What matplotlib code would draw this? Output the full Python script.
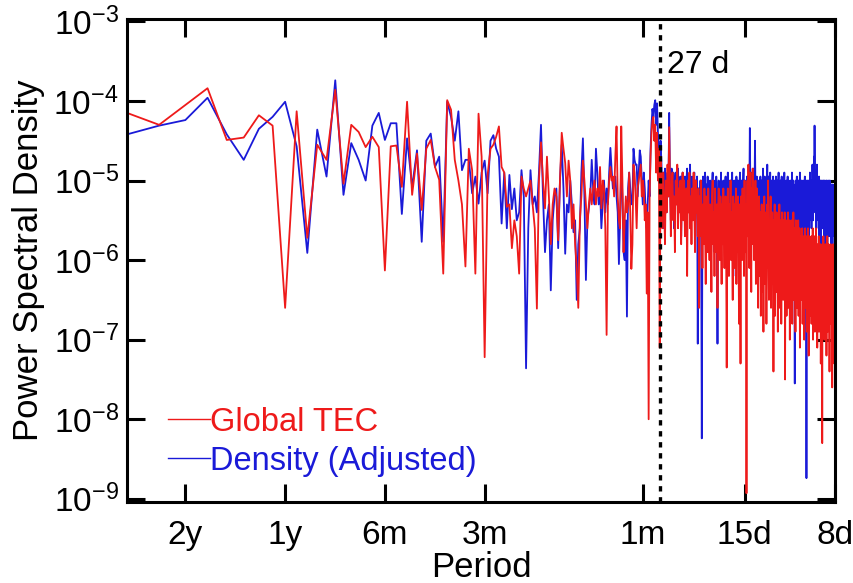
import numpy as np
import matplotlib.pyplot as plt
from matplotlib.lines import Line2D
from matplotlib.ticker import FixedLocator, LogLocator, NullLocator

plt.rcParams['font.family'] = ['Liberation Sans', 'DejaVu Sans']
plt.rcParams['axes.unicode_minus'] = False

# spectrum of a 12-year daily series, first plotted harmonic k = 4
record_days = 4380
first_k = 4

# log10 of the PSD, one value per harmonic (k = 4 ... 547)
tec_low = [
    -4.15, -4.30, -4.05, -3.84, -4.49, -4.46, -4.18, -4.31, -6.60, -4.13,
    -5.72, -4.55, -4.74, -3.86, -5.04, -4.30, -4.39, -4.58, -4.45, -4.58,
    -6.13, -4.57, -4.56, -5.08, -4.01, -5.18, -4.66, -5.37, -4.60, -4.49,
    -4.83, -4.99, -6.17, -3.99, -4.11, -4.74, -5.00, -5.30, -6.08, -4.60,
    -4.87, -6.17, -4.16, -4.70, -7.22,
    -4.93, -4.60, -4.55, -4.45, -4.32, -4.83, -4.90, -5.33, -5.30, -5.85,
    -5.50, -5.70, -6.17, -4.95, -5.10, -5.20, -5.10, -5.00, -5.30, -5.60,
    -6.61, -5.00, -4.52, -5.00, -5.35, -4.70, -5.20, -5.80, -5.30, -5.10,
    -5.20, -5.75, -5.00, -4.40, -4.60, -4.78, -5.20, -4.75, -5.00, -5.60,
    -5.30, -5.80, -6.10, -6.60, -5.50, -5.20, -4.75, -5.00, -5.30, -5.60,
    -5.30, -5.10,
]
tec_mid = [
    -5.30, -5.10, -5.00, -5.30, -5.10, -5.20, -4.83, -5.35, -5.00, -5.10,
    -5.60, -6.94, -5.30, -5.00, -4.83, -5.00, -4.95, -5.20, -4.70, -4.32,
    -5.20, -5.50, -5.60, -4.32, -5.00, -5.90, -5.50, -5.20, -5.40, -5.30,
    -4.90, -5.40, -6.11, -5.80, -4.80, -4.90, -5.20, -5.60, -5.10, -5.00,
    -4.90, -4.80, -5.20, -5.00, -5.10, -5.50, -5.30, -6.42, -5.40, -8.00,
    -5.20, -4.70, -4.40, -4.25, -4.20, -4.50, -4.30, -4.90, -4.40, -5.00,
    -4.60, -7.10, -4.70,
    -5.1, -5.6, -4.9, -5.3, -5.8, -5.0, -5.4, -4.8, -5.2, -4.33,
    -5.0, -5.7, -5.1, -4.9, -5.5, -5.2, -5.9, -5.0, -5.3, -4.8,
    -5.6, -5.1, -5.4, -5.0, -5.8, -5.2, -4.9, -5.5, -5.0, -5.7,
    -5.3, -5.1, -6.2, -5.0, -5.4, -4.9, -5.6, -5.2, -5.8, -5.1,
    -5.5, -4.9, -5.3, -5.9, -5.0, -5.4, -5.2, -5.7, -5.1, -6.6,
]
tec_high = [
    -5.2, -5.7, -5.0, -5.5, -6.1, -5.3, -5.8, -5.1, -5.6, -6.3,
    -5.2, -5.4, -5.9, -5.1, -5.7, -6.0, -5.3, -5.5, -6.4, -5.2,
    -5.0, -5.8, -5.4, -6.2, -5.1, -5.6, -5.9, -5.3, -6.6, -5.4,
    -5.1, -5.7, -6.0, -5.2, -5.5, -6.3, -5.3, -5.8, -5.1, -5.6,
    -6.1, -5.4, -5.2, -5.9, -7.35, -5.5, -5.1, -5.7, -6.2, -5.3,
    -5.6, -5.0, -6.0, -5.4, -5.8, -6.5, -5.2, -5.5, -6.1, -5.3,
    -5.7, -5.1, -6.3, -5.4, -5.9, -5.2, -5.6, -6.8, -5.3, -5.7,
    -7.3, -5.2, -5.5, -6.0, -5.1, -5.8, -5.4, -6.2, -5.0, -5.6,
    -5.9, -5.3, -8.93, -5.5, -5.0, -5.7, -4.8, -5.4, -6.1, -5.2,
    -4.9, -5.6, -6.4, -5.1, -5.5, -4.85, -5.8, -5.3, -6.0, -5.2,
    -5.7, -5.0, -6.3, -5.4, -5.1, -5.9, -5.3, -6.6, -5.5, -5.2,
    -5.6, -6.2, -5.4, -6.7, -5.8, -5.3, -6.4, -5.9, -5.5, -6.9,
    -5.7, -5.2, -6.3, -5.6, -6.0, -5.4, -6.8, -5.8, -5.3, -6.1,
    -5.0, -5.9, -6.5, -5.5, -6.2, -5.7, -5.2, -6.6, -5.8, -6.0,
    -5.4, -6.3, -5.6, -7.4, -5.5, -6.1, -5.3, -6.7, -5.9, -5.6,
    -6.4, -5.4, -6.0, -5.7, -6.9, -5.5, -5.9, -6.3, -5.3, -6.6,
    -5.8, -6.1, -5.5, -6.8, -5.6, -5.4, -6.2, -5.9, -6.5, -5.5,
    -5.7, -6.0, -5.4, -7.5, -5.8, -6.3, -5.6, -6.7, -5.5, -6.1,
    -5.9, -5.4, -6.6, -5.7, -6.2, -5.5, -7.0, -5.8, -6.0, -5.6,
    -6.4, -5.5, -5.9, -6.8, -5.7, -6.1, -5.4, -6.5, -5.9, -5.6,
    -6.3, -5.8, -6.9, -5.5, -6.0, -5.7, -6.6, -5.6, -6.2, -5.9,
    -5.5, -6.7, -5.8, -6.1, -5.6, -7.1, -5.9, -6.3, -5.7, -6.5,
    -5.8, -6.0, -5.6, -6.8, -6.2, -5.7, -6.4, -5.9, -7.0, -5.8,
    -6.1, -5.6, -6.6, -5.9, -6.3, -5.7, -6.9, -6.0, -5.8, -6.5,
    -5.6, -6.2, -7.2, -5.9, -6.0, -5.7, -6.7, -6.1, -5.8, -6.4,
    -5.9, -6.8, -5.7, -6.3, -6.0, -5.6, -7.0, -6.2, -5.9, -6.5,
    -5.7, -6.1, -6.9, -5.8, -6.4, -6.0, -5.6, -6.7, -6.2, -5.9,
    -7.1, -6.0, -5.8, -6.5, -6.3, -5.7, -6.9, -6.1, -5.9, -6.6,
    -6.0, -5.8, -7.3, -6.2, -5.9, -6.5, -6.0, -8.3, -5.8, -6.4,
    -6.1, -5.7, -6.8, -6.2, -5.9, -7.0, -6.0, -6.3, -5.8, -6.6,
    -6.2, -5.9, -7.2, -6.0, -6.4, -5.7, -6.9, -6.1, -6.3, -5.8,
    -6.7, -6.0, -6.2, -7.4, -5.9, -6.5, -6.1, -5.8, -6.8, -6.3,
    -6.0, -6.6, -5.9, -7.6, -6.2, -6.4, -5.8, -7.0, -6.1, -6.5,
    -5.9, -7.3, -6.2, -6.0,
]

dens_low = [
    -4.42, -4.31, -4.24, -3.96, -4.42, -4.74, -4.35, -4.20, -4.01, -4.57,
    -5.91, -4.36, -4.95, -3.74, -5.18, -4.53, -4.74, -5.00, -4.31, -4.15,
    -4.49, -4.28, -4.28, -5.42, -4.47, -5.08, -4.62, -5.77, -4.50, -4.41,
    -4.83, -4.70, -5.77, -4.01, -4.20, -4.50, -4.13, -4.87, -4.74, -4.74,
    -5.16, -4.95, -5.29, -4.90, -4.75,
    -5.16, -4.50, -4.43, -4.60, -4.70, -5.54, -4.90, -5.60, -4.93, -5.36,
    -5.10, -5.50, -5.40, -4.87, -5.20, -7.36, -5.60, -4.87, -5.30, -5.20,
    -5.40, -4.90, -4.30, -5.20, -5.90, -5.50, -5.30, -6.38, -5.50, -5.20,
    -5.10, -5.85, -5.00, -4.55, -5.10, -5.92, -5.30, -5.40, -5.00, -5.30,
    -5.65, -5.50, -6.50, -5.80, -5.60, -4.90, -4.47, -5.20, -6.25, -5.50,
    -5.35, -5.20,
]
dens_mid = [
    -4.74, -5.10, -5.30, -4.60, -4.90, -5.30, -5.10, -5.60, -5.30, -5.00,
    -5.40, -5.10, -5.30, -4.90, -4.59, -4.87, -5.10, -5.00, -4.95, -5.20,
    -5.40, -6.05, -5.50, -4.80, -5.20, -5.90, -6.00, -5.50, -6.71, -5.10,
    -4.90, -5.10, -5.30, -5.25, -4.60, -4.74, -4.80, -4.80, -5.20, -4.90,
    -4.62, -4.70, -5.00, -5.30, -4.90, -5.10, -5.40, -5.60, -5.30, -5.00,
    -5.20, -4.60, -4.30, -4.10, -4.20, -4.05, -3.99, -4.30, -4.03, -4.40,
    -4.60, -4.90, -4.50,
    -4.8, -5.3, -4.9, -5.6, -4.85, -5.1, -5.4, -4.9, -5.2, -4.15,
    -5.0, -5.5, -4.85, -5.2, -4.9, -5.6, -5.0, -4.9, -5.3, -5.0,
    -4.85, -5.4, -5.1, -4.95, -5.7, -5.0, -4.9, -5.3, -5.1, -4.95,
    -5.6, -5.0, -4.85, -5.4, -4.95, -5.2, -4.8, -5.5, -5.0, -4.95,
    -5.3, -5.1, -4.9, -5.6, -5.0, -5.2, -4.95, -7.05, -5.1, -5.4,
]
dens_high = [
    -5.3, -5.0, -5.6, -8.24, -5.2, -4.95, -5.5, -5.1, -4.9, -5.4,
    -5.05, -5.7, -4.95, -5.3, -5.1, -5.8, -5.0, -5.2, -5.5, -5.05,
    -4.9, -5.4, -5.1, -5.9, -5.0, -5.3, -4.95, -5.6, -7.05, -5.2,
    -5.0, -5.5, -5.05, -5.3, -4.9, -5.7, -5.1, -5.4, -5.0, -5.2,
    -5.6, -5.05, -4.95, -5.4, -5.8, -5.1, -4.9, -5.3, -5.05, -5.6,
    -5.0, -5.2, -5.5, -5.05, -4.9, -5.4, -6.2, -5.1, -5.0, -5.3,
    -5.05, -5.7, -4.95, -5.2, -5.5, -5.0, -5.1, -5.8, -5.05, -4.9,
    -5.3, -5.6, -5.0, -5.1, -5.4, -5.05, -4.85, -5.5, -5.1, -5.0,
    -5.3, -5.05, -5.7, -4.95, -5.2, -5.0, -5.4, -4.85, -5.1, -4.34,
    -5.05, -5.3, -4.9, -5.6, -5.0, -5.1, -4.85, -5.4, -5.05, -5.2,
    -4.5, -5.1, -5.0, -5.5, -4.95, -5.2, -5.05, -5.6, -5.0, -5.3,
    -5.05, -5.4, -4.95, -5.7, -5.1, -5.0, -5.5, -5.2, -4.85, -5.6,
    -5.05, -5.3, -4.95, -5.8, -5.1, -5.0, -5.4, -5.05, -4.8, -5.5,
    -5.1, -4.95, -5.6, -5.05, -5.3, -4.9, -5.9, -5.1, -5.0, -5.4,
    -5.05, -5.7, -4.95, -5.2, -5.5, -5.0, -5.3, -5.05, -5.8, -4.95,
    -5.2, -5.5, -5.0, -5.1, -5.6, -5.05, -4.9, -5.4, -5.2, -6.0,
    -5.05, -5.0, -5.5, -5.1, -4.95, -5.7, -5.05, -5.3, -5.0, -5.6,
    -5.1, -4.9, -5.4, -5.05, -5.8, -5.2, -5.0, -5.5, -5.05, -5.3,
    -4.95, -5.6, -5.1, -5.0, -5.4, -5.05, -5.9, -5.2, -5.0, -5.3,
    -5.05, -5.7, -4.9, -5.2, -5.5, -5.05, -5.0, -5.4, -5.1, -5.8,
    -7.55, -5.05, -5.3, -5.0, -5.6, -5.1, -4.95, -5.4, -5.05, -5.7,
    -5.2, -5.0, -5.5, -5.05, -5.3, -4.9, -5.9, -5.1, -5.4, -5.05,
    -5.0, -5.6, -5.2, -5.05, -5.5, -5.0, -5.3, -5.8, -5.05, -5.2,
    -4.95, -5.6, -5.1, -5.4, -5.0, -8.74, -5.2, -5.05, -5.5, -5.0,
    -5.3, -5.1, -5.7, -5.0, -5.2, -5.5, -4.9, -5.05, -5.4, -5.1,
    -5.0, -5.6, -5.05, -5.3, -4.8, -5.2, -5.5, -5.0, -5.1, -4.7,
    -5.3, -4.31, -5.05, -5.4, -4.9, -5.2, -5.0, -5.6, -5.05, -4.8,
    -5.3, -5.1, -5.0, -5.5, -5.05, -5.2, -4.95, -5.7, -5.1, -5.05,
    -5.4, -5.0, -5.2, -5.8, -5.05, -5.3, -5.0, -5.6, -5.1, -5.05,
    -5.5, -5.0, -5.2, -5.7, -5.05, -5.4, -5.0, -5.3, -5.9, -5.1,
    -5.05, -5.6, -5.0, -5.3, -5.1, -5.8, -5.05, -5.4, -5.0, -5.5,
    -5.2, -5.05, -5.7, -5.1, -5.0, -5.4, -5.6, -5.05, -5.3, -5.8,
    -5.1, -5.05, -5.5, -5.2, -5.9, -5.05, -5.3, -5.6, -5.1, -5.4,
    -5.2, -5.7, -5.05, -5.3,
]

tec_log = tec_low + tec_mid + tec_high
dens_log = dens_low + dens_mid + dens_high

period_days = [730, 365, 182.5, 91.25, 365 / 12, 15, 8]
period_labels = ['2y', '1y', '6m', '3m', '1m', '15d', '8d']
solar_rotation = 27

freq = np.arange(first_k, first_k + len(tec_log)) / record_days
tec = 10.0 ** np.array(tec_log)
dens = 10.0 ** np.array(dens_log)

red = '#ee1a1a'
blue = '#1a1ad8'

fig = plt.figure(figsize=(8.54, 5.83), dpi=100)
ax = fig.add_axes([127 / 854, 1 - 502 / 583, 708 / 854, 483 / 583])

ax.plot(freq, dens, color=blue, lw=1.3)
ax.plot(freq, tec, color=red, lw=1.3)

ax.axvline(1 / solar_rotation, color='black', lw=2.4, ls=(0, (1.6, 1.7)))
ax.text(1 / 25.7, 10 ** -3.55, '27 d', fontsize=23, va='center', ha='left')

ax.set_xscale('log')
ax.set_yscale('log')
ax.set_xlim(first_k / record_days, 1 / 8)
ax.set_ylim(10 ** -9.04, 10 ** -2.97)

ax.xaxis.set_major_locator(FixedLocator([1 / p for p in period_days]))
ax.set_xticklabels(period_labels)
ax.xaxis.set_minor_locator(NullLocator())
ax.yaxis.set_major_locator(LogLocator(base=10, numticks=10))
ax.yaxis.set_minor_locator(NullLocator())

ax.tick_params(which='major', direction='in', length=13, width=2.2,
               top=True, right=True, labelsize=24)
ax.tick_params(axis='x', pad=13)
ax.tick_params(axis='y', pad=6)
for s in ax.spines.values():
    s.set_linewidth(2.2)

ax.set_xlabel('Period', fontsize=25, labelpad=0)
ax.set_ylabel('Power Spectral Density', fontsize=25, labelpad=6)

handles = [Line2D([], [], color=red, lw=1.0), Line2D([], [], color=blue, lw=1.0)]
ax.legend(handles, ['Global TEC', 'Density (Adjusted)'], loc='upper left',
          bbox_to_anchor=(0.058, 0.197), frameon=False, fontsize=23.5,
          handlelength=1.29, handletextpad=0.0, borderpad=0, borderaxespad=0,
          labelspacing=0.24, labelcolor='linecolor')

fig.savefig('out.png', dpi=100)
